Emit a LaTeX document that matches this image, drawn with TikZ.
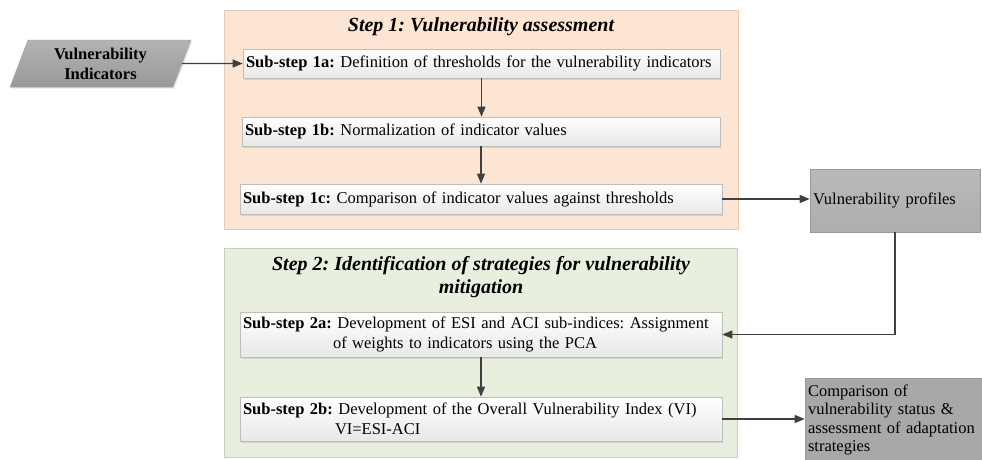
\documentclass[tikz,border=0pt]{standalone}
\usepackage{fontspec}
\setmainfont{Liberation Serif}
\usetikzlibrary{arrows.meta,shapes.geometric,shadows}
\definecolor{peach}{HTML}{FDE5D4}
\definecolor{peachline}{HTML}{E6C9B6}
\definecolor{sage}{HTML}{E8EFDF}
\definecolor{sageline}{HTML}{C6D1BA}
\definecolor{arrowc}{HTML}{404040}
\definecolor{boxline}{HTML}{BDBDBD}
\frenchspacing
\hyphenpenalty=10000
\begin{document}
\begin{tikzpicture}[x=1pt,y=-1pt,
  stepbox/.style={draw, line width=0.8pt, inner sep=0pt,
    drop shadow={shadow xshift=1pt, shadow yshift=-1pt, opacity=0.12}},
  titletext/.style={font=\fontsize{20}{23}\selectfont\bfseries\itshape, inner sep=0pt},
  subbox/.style={draw=boxline, line width=0.6pt, top color=white, bottom color=black!9,
    inner sep=3pt, align=left, font=\fontsize{16.5}{20}\selectfont,
    drop shadow={shadow xshift=1.2pt, shadow yshift=-1.5pt, opacity=0.22}},
  graybox/.style={draw=black!40, line width=0.6pt, inner sep=3pt, align=left,
    font=\fontsize{16.5}{18.3}\selectfont},
  arr/.style={draw=arrowc, line width=1.2pt, -{Triangle[length=10pt,width=8pt]}, arrowc}
]
\fill[white] (0,0) rectangle (982,459);
\useasboundingbox (0,0) rectangle (982,459);

% Step containers
\node[stepbox, fill=peach, draw=peachline, minimum width=514pt, minimum height=219pt] (step1) at (481,119.5) {};
\node[titletext] (t1) at (481,27) {Step 1: Vulnerability assessment};
\node[stepbox, fill=sage, draw=sageline, minimum width=513pt, minimum height=209pt] (step2) at (480.5,352.5) {};
\node[titletext, align=center] (t2) at (481,277) {Step 2: Identification of strategies for vulnerability\\mitigation};

% Input
\node[trapezium, trapezium left angle=70, trapezium right angle=110, trapezium stretches=true,
  minimum width=181pt, minimum height=47pt, draw=black!35, line width=0.5pt,
  top color=black!30, bottom color=black!40, align=center, inner sep=0pt,
  font=\fontsize{16.5}{20}\selectfont\bfseries,
  drop shadow={shadow xshift=1.2pt, shadow yshift=-1.5pt, opacity=0.2}] (vi) at (100.5,63.5)
  {Vulnerability\\Indicators};

% Sub-steps
\node[subbox, text width=471pt, minimum height=29pt] (s1a) at (481.5,63.5)
  {\textbf{Sub-step 1a:} Definition of thresholds for the vulnerability indicators};
\node[subbox, text width=472pt, minimum height=29pt] (s1b) at (481,131.5)
  {\textbf{Sub-step 1b:} Normalization of indicator values};
\node[subbox, text width=476pt, minimum height=30pt] (s1c) at (481,199)
  {\textbf{Sub-step 1c:} Comparison of indicator values against thresholds};
\node[subbox, text width=476pt, minimum height=45pt] (s2a) at (481,334.5)
  {\textbf{Sub-step 2a:} Development of ESI and ACI sub-indices: Assignment\\\hspace*{90pt}of weights to indicators using the PCA};
\node[subbox, text width=476pt, minimum height=44pt] (s2b) at (481,419)
  {\textbf{Sub-step 2b:} Development of the Overall Vulnerability Index (VI)\\\hspace*{92pt}VI=ESI-ACI};

% Outputs
\node[graybox, top color=black!27, bottom color=black!32, text width=164pt, minimum height=63pt] (prof) at (895,200.5)
  {Vulnerability profiles};
\node[graybox, fill=black!34, text width=172pt, minimum height=84pt] (comp) at (894,420)
  {Comparison of\\vulnerability status \&\\assessment of adaptation\\strategies};

% Connectors
\draw[arr] (vi.east) -- (s1a.west);
\draw[arr] (s1a.south) -- (s1a.south |- s1b.north);
\draw[arr] (s1b.south) -- (s1b.south |- s1c.north);
\draw[arr] (s1c.east) -- (s1c.east -| prof.west);
\draw[arr] (prof.south) |- (s2a.east);
\draw[arr] (s2a.south) -- (s2a.south |- s2b.north);
\draw[arr] (s2b.east) -- (s2b.east -| comp.west);
\end{tikzpicture}
\end{document}
